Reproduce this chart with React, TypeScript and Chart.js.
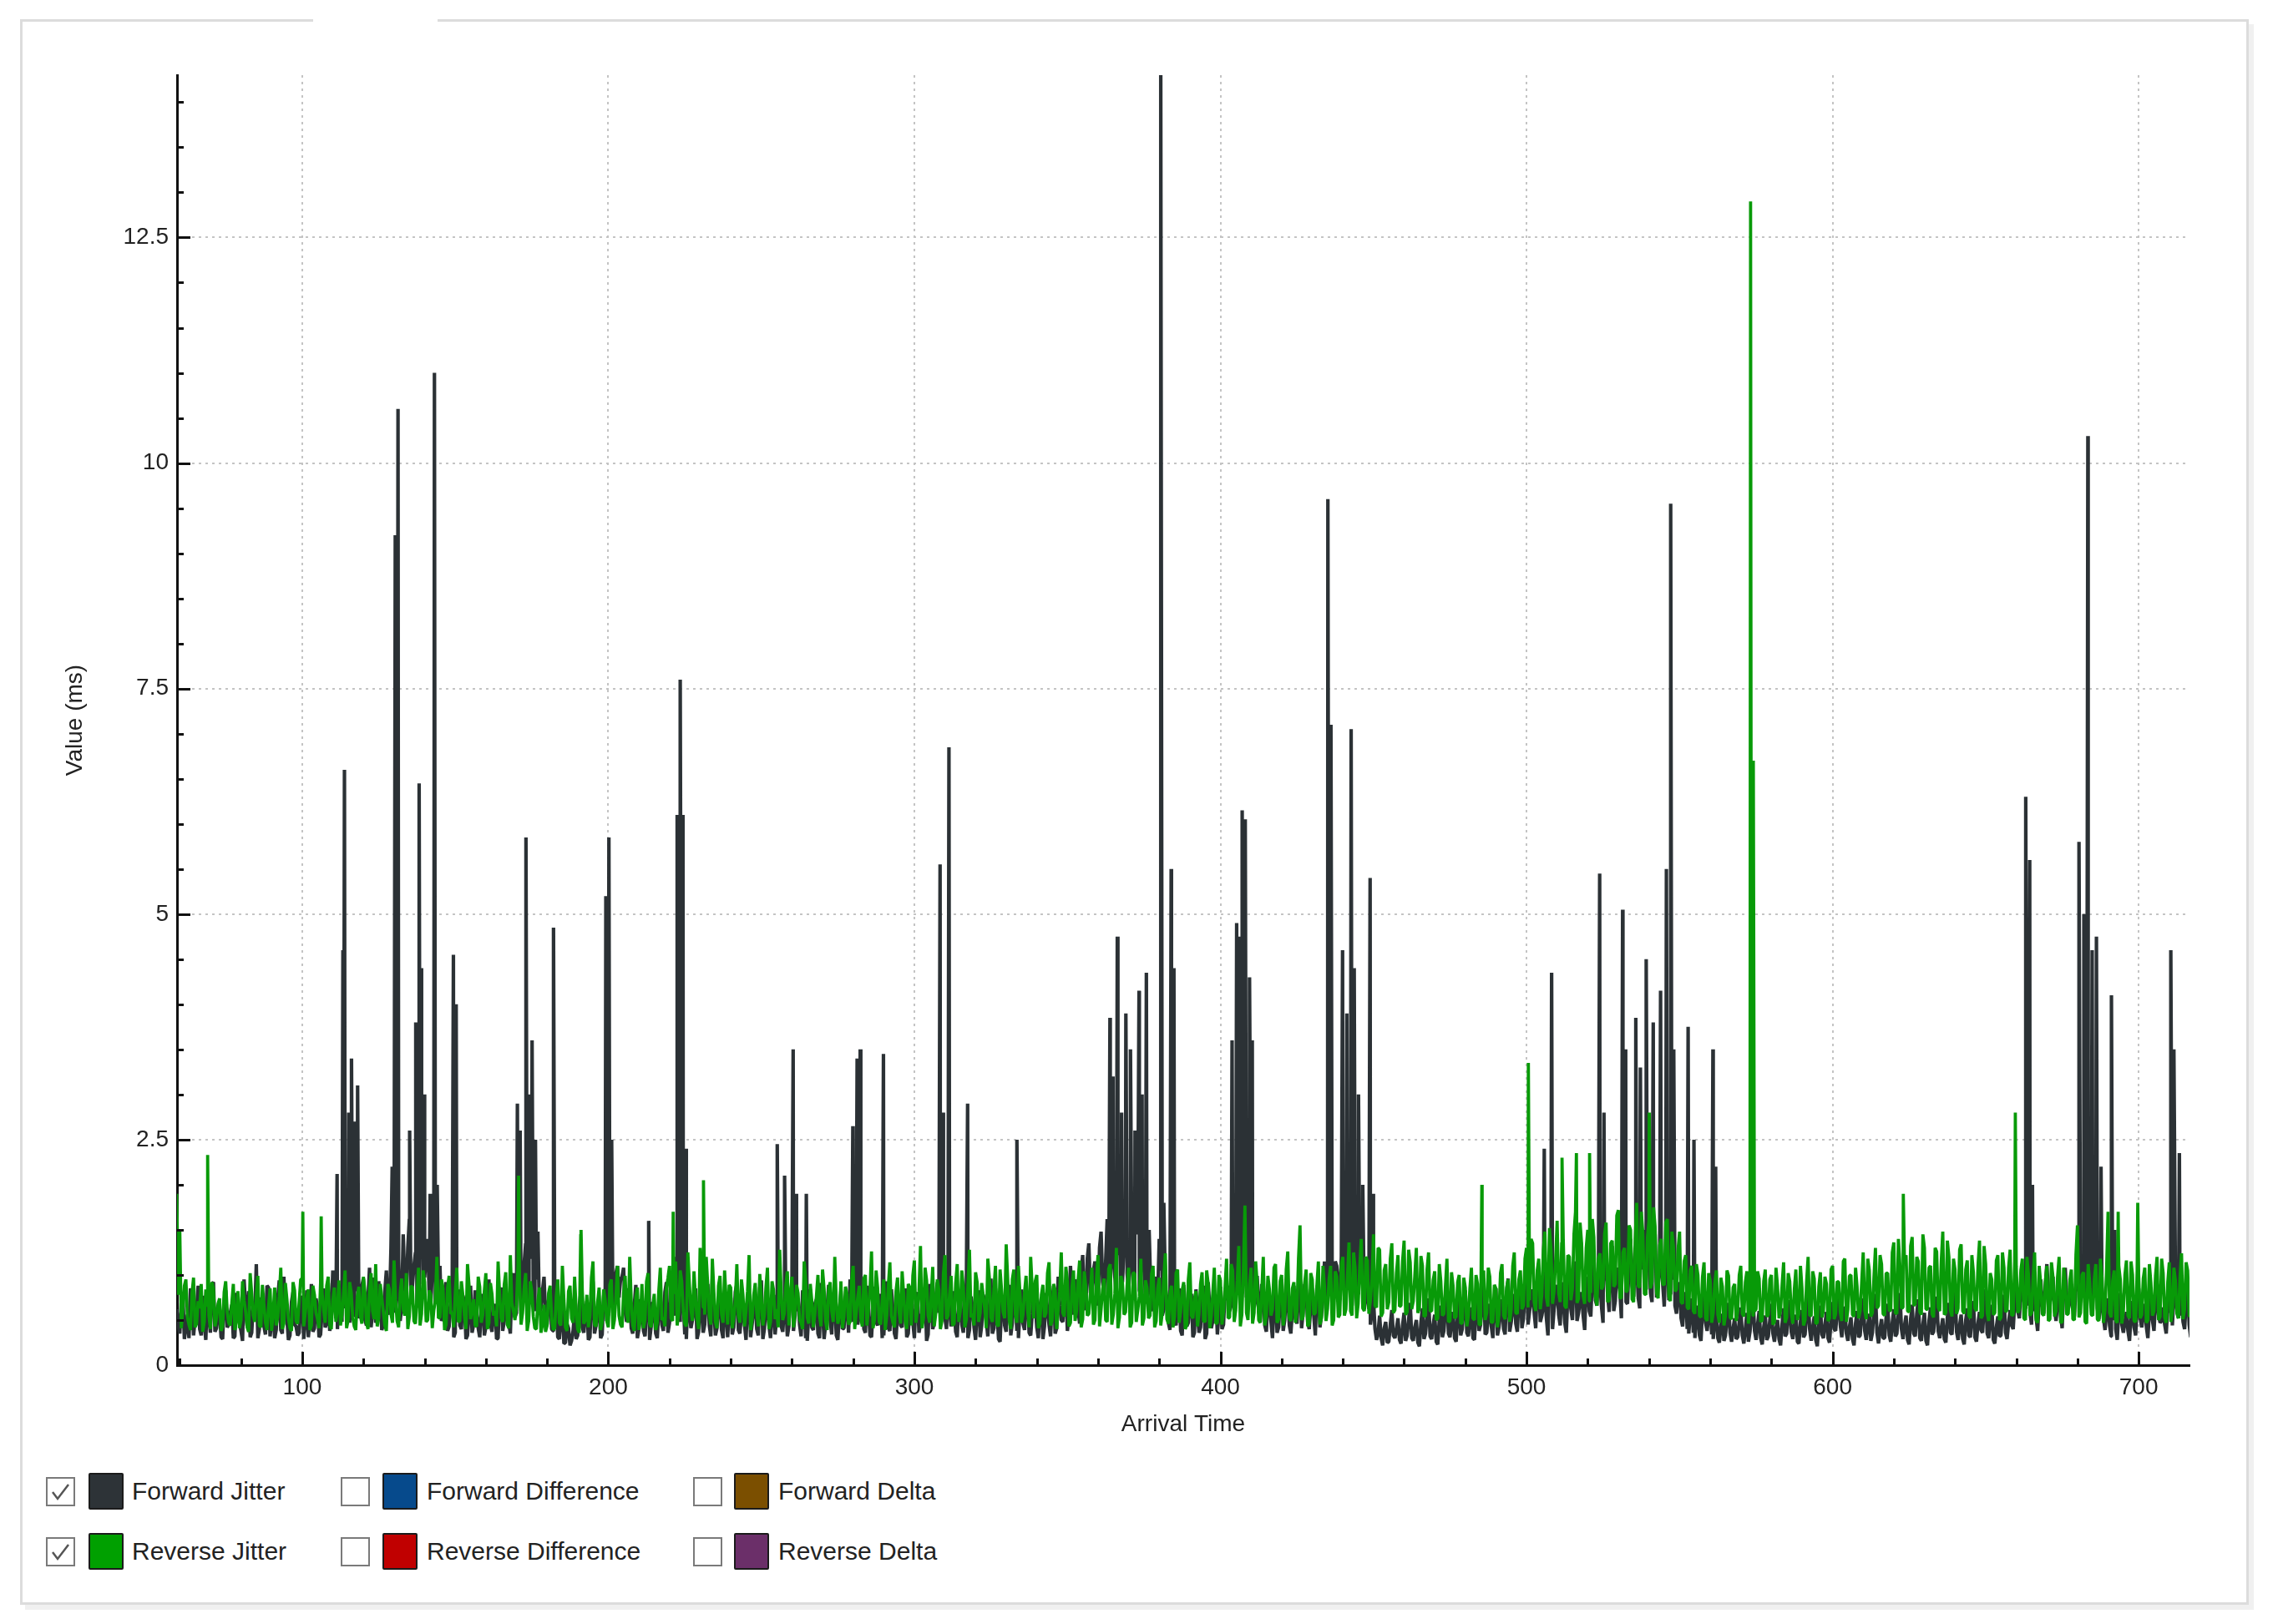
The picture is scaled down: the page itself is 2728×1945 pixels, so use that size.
import React, { useEffect, useRef } from 'react';
import { Chart, registerables } from 'chart.js';

Chart.register(...registerables);

// ---------- data ----------
const startTime = 59; // arrival time of the first background sample
const halfStep = 0.5; // the "Mid" arrays hold the samples that arrive half a unit later
const xAxisMin = 59.1;
const xAxisMax = 716.6;
const yAxisMax = 14.3;

const xTickValues = [100, 200, 300, 400, 500, 600, 700];
const yTickValues = [0, 2.5, 5, 7.5, 10, 12.5];
const xMinorStep = 20;
const yMinorStep = 0.5;

// Forward Jitter background samples at t = 59, 60, ... 717
const forwardJitterBase = [
  0.62, 0.35, 0.81, 0.42, 0.30, 0.74, 0.51, 0.88, 0.33, 0.47, 0.79, 0.36, 0.92, 0.41, 0.58, 0.29, 0.83, 0.45, 0.67, 0.32,
  0.76, 0.38, 0.95, 0.44, 0.31, 0.69, 1.12, 0.40, 0.57, 0.34, 0.86, 0.48, 0.30, 0.73, 0.39, 0.98, 0.52, 0.33, 0.81, 0.43,
  0.36, 0.77, 0.49, 0.31, 0.90, 0.41, 0.64, 0.34, 0.85, 0.46, 0.38, 1.05, 0.52, 0.72, 0.48, 1.20, 0.65, 0.91, 0.55, 1.15,
  0.58, 0.96, 0.44, 1.08, 0.61, 0.47, 0.93, 0.39, 0.82, 0.56, 1.30, 0.68, 0.95, 0.49, 1.45, 0.74, 1.62, 0.88, 1.25, 0.71,
  1.85, 0.97, 1.40, 0.66, 1.58, 0.80, 1.10, 0.54, 0.92, 0.43, 0.78, 0.36, 0.84, 0.40, 0.70, 0.33, 0.88, 0.45, 0.62, 0.31,
  0.79, 0.42, 0.95, 0.37, 0.68, 0.30, 0.86, 0.49, 0.74, 0.35, 1.02, 0.58, 0.91, 0.66, 1.35, 0.72, 1.18, 0.60, 1.48, 0.63,
  0.98, 0.45, 0.83, 0.38, 0.72, 0.29, 0.64, 0.25, 0.41, 0.27, 0.58, 0.33, 0.80, 0.36, 0.71, 0.31, 0.93, 0.44, 0.67, 0.34,
  0.85, 0.56, 1.05, 0.62, 1.10, 0.95, 1.08, 0.48, 0.77, 0.35, 0.89, 0.40, 0.68, 0.32, 0.81, 0.43, 0.59, 0.30, 0.76, 0.38,
  0.92, 0.47, 0.66, 1.20, 0.85, 0.58, 0.34, 0.79, 0.41, 0.63, 0.29, 0.87, 0.36, 0.72, 0.44, 0.96, 0.33, 0.69, 0.39, 0.82,
  0.31, 0.75, 0.42, 0.90, 0.35, 0.64, 0.28, 0.80, 0.46, 0.71, 0.33, 0.94, 0.40, 0.62, 0.30, 0.78, 0.52, 0.88, 0.37, 0.69,
  0.43, 0.91, 0.55, 0.74, 0.32, 0.67, 0.27, 0.84, 0.39, 0.73, 0.30, 0.60, 0.45, 0.89, 0.34, 0.70, 0.28, 0.82, 0.41, 0.66,
  0.95, 0.48, 1.02, 0.57, 0.79, 0.36, 0.68, 0.31, 0.87, 0.44, 0.72, 0.33, 0.93, 0.38, 0.61, 0.29, 0.76, 0.42, 0.85, 0.35,
  0.70, 0.30, 0.81, 0.46, 0.63, 0.27, 0.90, 0.40, 0.74, 0.58, 1.05, 0.52, 0.88, 0.43, 0.67, 0.31, 0.79, 0.36, 0.92, 0.39,
  0.65, 0.28, 0.83, 0.44, 0.71, 0.32, 0.96, 0.41, 0.60, 0.26, 0.77, 0.37, 0.89, 0.47, 0.68, 0.30, 0.84, 0.39, 0.73, 0.33,
  0.91, 0.42, 0.64, 0.29, 0.80, 0.45, 0.70, 0.35, 0.98, 0.50, 0.76, 0.38, 1.10, 0.56, 0.87, 0.46, 1.22, 0.61, 1.35, 0.72,
  1.15, 0.66, 1.48, 0.79, 1.62, 0.85, 1.30, 0.74, 1.55, 0.92, 1.70, 0.81, 1.42, 0.95, 1.58, 0.77, 1.25, 0.68, 1.12, 0.60,
  0.98, 1.40, 0.55, 0.86, 0.47, 0.93, 0.52, 0.78, 0.38, 0.89, 0.43, 0.70, 0.31, 0.84, 0.36, 0.75, 0.29, 0.92, 0.41, 0.66,
  0.34, 0.87, 0.45, 0.72, 0.60, 1.05, 0.75, 1.28, 0.88, 1.36, 0.92, 1.18, 0.64, 0.99, 0.48, 0.81, 0.37, 0.70, 0.30, 0.85,
  0.42, 0.95, 0.50, 0.77, 0.35, 0.88, 0.46, 1.02, 0.58, 0.83, 0.40, 0.74, 0.33, 0.91, 0.55, 1.15, 0.68, 1.32, 0.80, 1.10,
  0.72, 1.45, 0.85, 1.26, 0.66, 1.38, 0.79, 1.18, 0.62, 0.95, 0.45, 0.72, 0.28, 0.55, 0.22, 0.48, 0.26, 0.61, 0.30, 0.52,
  0.24, 0.58, 0.33, 0.69, 0.27, 0.50, 0.21, 0.63, 0.35, 0.74, 0.29, 0.56, 0.23, 0.66, 0.38, 0.80, 0.31, 0.59, 0.26, 0.71,
  0.40, 0.83, 0.32, 0.64, 0.28, 0.77, 0.45, 0.91, 0.36, 0.68, 0.30, 0.85, 0.42, 0.73, 0.34, 0.96, 0.48, 0.79, 0.37, 0.88,
  0.52, 1.05, 0.60, 0.84, 0.41, 0.97, 0.55, 0.76, 0.33, 1.10, 0.62, 0.89, 0.44, 0.72, 0.36, 0.93, 0.50, 1.15, 0.58, 0.81,
  0.39, 0.98, 0.54, 1.20, 0.66, 0.90, 0.47, 1.08, 0.59, 1.32, 0.71, 0.95, 0.52, 1.25, 0.68, 1.40, 0.76, 1.12, 0.63, 1.50,
  0.84, 1.28, 0.70, 1.45, 0.88, 1.18, 0.65, 1.36, 0.79, 1.05, 0.57, 0.92, 0.43, 0.81, 0.35, 0.74, 0.30, 0.66, 0.27, 0.85,
  0.38, 0.71, 0.29, 0.62, 0.25, 0.57, 0.33, 0.69, 0.26, 0.52, 0.31, 0.64, 0.24, 0.58, 0.37, 0.75, 0.28, 0.60, 0.23, 0.55,
  0.32, 0.68, 0.26, 0.50, 0.22, 0.63, 0.35, 0.72, 0.29, 0.56, 0.24, 0.61, 0.34, 0.77, 0.27, 0.54, 0.21, 0.66, 0.30, 0.59,
  0.25, 0.70, 0.38, 0.82, 0.31, 0.65, 0.27, 0.53, 0.22, 0.60, 0.33, 0.74, 0.28, 0.57, 0.36, 0.79, 0.24, 0.51, 0.30, 0.68,
  0.26, 0.62, 0.35, 0.80, 0.29, 0.55, 0.23, 0.67, 0.32, 0.73, 0.27, 0.58, 0.22, 0.64, 0.37, 0.76, 0.30, 0.52, 0.25, 0.69,
  0.34, 0.81, 0.28, 0.56, 0.23, 0.63, 0.31, 0.71, 0.26, 0.59, 0.36, 0.84, 0.30, 0.67, 0.24, 0.54, 0.33, 0.78, 0.29, 0.61,
  0.40, 0.92, 0.52, 1.05, 0.63, 0.88, 0.45, 0.76, 0.38, 0.95, 0.57, 1.12, 0.70, 0.98, 0.49, 0.85, 0.41, 1.08, 0.62, 0.90,
  0.54, 1.15, 0.73, 0.96, 0.60, 1.22, 0.78, 1.02, 0.51, 0.87, 0.39, 0.74, 0.32, 0.66, 0.28, 0.80, 0.36, 0.59, 0.27, 0.71,
  0.33, 0.85, 0.42, 0.68, 0.30, 0.77, 0.38, 0.90, 0.47, 0.64, 0.35, 0.82, 0.44, 0.96, 0.52, 0.73, 0.40, 0.88, 0.31,
];

// Forward Jitter background samples at t = 59.5, 60.5, ... 716.5
const forwardJitterMid = [
  0.44, 0.71, 0.29, 0.56, 0.85, 0.33, 0.62, 0.40, 0.77, 0.28, 0.53, 0.90, 0.37, 0.66, 0.31, 0.72, 0.42, 0.58, 0.30, 0.80,
  0.47, 0.27, 0.64, 0.82, 0.36, 0.55, 0.30, 0.75, 0.43, 0.88, 0.32, 0.61, 0.39, 0.94, 0.35, 0.57, 0.28, 0.70, 0.45, 0.33,
  0.68, 0.29, 0.83, 0.51, 0.37, 0.74, 0.31, 0.60, 0.42, 0.91, 0.55, 0.78, 0.40, 0.87, 0.63, 0.98, 0.47, 0.75, 0.82, 0.52,
  0.88, 0.50, 0.74, 0.42, 0.97, 0.55, 0.70, 0.45, 1.05, 0.62, 0.85, 0.58, 1.18, 0.66, 0.92, 1.30, 0.79, 1.10, 0.64, 1.38,
  0.90, 1.22, 0.75, 1.05, 0.68, 0.95, 0.49, 0.82, 0.38, 0.70, 0.31, 0.65, 0.44, 0.77, 0.29, 0.58, 0.36, 0.83, 0.41, 0.60,
  0.33, 0.72, 0.45, 0.58, 0.29, 0.81, 0.38, 0.64, 0.47, 0.90, 0.53, 0.78, 0.60, 1.12, 0.70, 1.28, 0.66, 0.95, 0.58, 0.82,
  0.55, 0.72, 0.40, 0.63, 0.31, 0.52, 0.24, 0.46, 0.22, 0.38, 0.29, 0.66, 0.42, 0.57, 0.28, 0.75, 0.35, 0.62, 0.30, 0.77,
  0.49, 0.92, 0.58, 1.02, 0.75, 0.98, 0.60, 0.85, 0.41, 0.66, 0.30, 0.73, 0.38, 0.59, 0.28, 0.70, 0.35, 0.64, 0.45, 0.81,
  0.36, 0.78, 0.55, 0.93, 0.48, 0.70, 0.29, 0.62, 0.50, 0.85, 0.37, 0.58, 0.45, 0.90, 0.32, 0.64, 0.41, 0.80, 0.30, 0.57,
  0.62, 0.34, 0.81, 0.39, 0.58, 0.45, 0.73, 0.31, 0.66, 0.40, 0.86, 0.29, 0.71, 0.44, 0.55, 0.34, 0.79, 0.43, 0.64, 0.32,
  0.77, 0.38, 0.60, 0.45, 0.83, 0.30, 0.57, 0.42, 0.68, 0.35, 0.91, 0.29, 0.64, 0.50, 0.76, 0.33, 0.59, 0.40, 0.73, 0.36,
  0.60, 0.85, 0.45, 0.72, 0.40, 0.88, 0.33, 0.62, 0.48, 0.79, 0.30, 0.66, 0.41, 0.84, 0.35, 0.57, 0.44, 0.71, 0.31, 0.63,
  0.48, 0.75, 0.36, 0.58, 0.84, 0.34, 0.69, 0.47, 0.92, 0.65, 0.78, 0.40, 0.61, 0.82, 0.37, 0.70, 0.45, 0.59, 0.30, 0.76,
  0.42, 0.63, 0.31, 0.78, 0.49, 0.60, 0.35, 0.85, 0.29, 0.67, 0.44, 0.74, 0.33, 0.90, 0.38, 0.62, 0.46, 0.81, 0.36, 0.57,
  0.68, 0.30, 0.75, 0.43, 0.61, 0.32, 0.88, 0.41, 0.66, 0.48, 0.83, 0.55, 0.72, 0.95, 0.62, 1.02, 0.70, 1.18, 0.81, 1.05,
  0.88, 1.30, 0.92, 1.15, 0.75, 1.40, 0.98, 1.22, 0.85, 1.35, 1.02, 1.25, 0.90, 1.45, 0.83, 1.10, 0.72, 0.95, 0.66, 0.85,
  0.73, 1.05, 0.62, 0.74, 0.39, 0.68, 0.44, 0.85, 0.33, 0.61, 0.47, 0.79, 0.36, 0.58, 0.42, 0.88, 0.35, 0.63, 0.49, 0.77,
  0.58, 0.40, 0.82, 0.88, 0.66, 0.95, 1.02, 0.80, 1.10, 0.75, 1.05, 0.85, 0.72, 0.62, 0.90, 0.44, 0.73, 0.49, 0.66, 0.36,
  0.71, 0.38, 0.83, 0.44, 0.62, 0.52, 0.79, 0.41, 0.90, 0.48, 0.66, 0.55, 0.85, 0.42, 0.78, 0.90, 1.02, 0.95, 1.15, 0.88,
  1.20, 0.95, 1.08, 0.92, 1.15, 0.86, 1.02, 0.90, 0.75, 0.62, 0.58, 0.40, 0.35, 0.30, 0.41, 0.25, 0.45, 0.33, 0.40, 0.28,
  0.44, 0.27, 0.51, 0.30, 0.42, 0.25, 0.47, 0.29, 0.55, 0.32, 0.45, 0.26, 0.50, 0.31, 0.62, 0.35, 0.48, 0.30, 0.57, 0.33,
  0.65, 0.36, 0.52, 0.30, 0.61, 0.38, 0.70, 0.34, 0.55, 0.43, 0.72, 0.33, 0.58, 0.40, 0.81, 0.37, 0.63, 0.46, 0.74, 0.41,
  0.83, 0.45, 0.72, 0.58, 0.90, 0.48, 0.66, 0.52, 0.88, 0.40, 0.75, 0.56, 0.92, 0.47, 0.80, 0.62, 0.95, 0.49, 0.71, 0.55,
  0.86, 0.60, 0.98, 0.72, 1.05, 0.65, 0.94, 0.78, 1.12, 0.60, 1.08, 0.82, 1.20, 0.70, 1.15, 0.88, 1.28, 0.74, 1.06, 0.92,
  1.18, 0.80, 1.30, 0.75, 1.10, 0.90, 1.22, 0.72, 0.95, 0.66, 0.78, 0.52, 0.69, 0.40, 0.58, 0.36, 0.51, 0.33, 0.62, 0.47,
  0.55, 0.34, 0.49, 0.30, 0.44, 0.27, 0.52, 0.36, 0.41, 0.29, 0.48, 0.33, 0.40, 0.26, 0.56, 0.38, 0.45, 0.30, 0.42, 0.28,
  0.50, 0.35, 0.41, 0.29, 0.46, 0.32, 0.55, 0.37, 0.43, 0.26, 0.48, 0.31, 0.58, 0.40, 0.42, 0.28, 0.47, 0.34, 0.45, 0.30,
  0.52, 0.40, 0.61, 0.45, 0.50, 0.35, 0.42, 0.29, 0.46, 0.31, 0.56, 0.38, 0.44, 0.27, 0.60, 0.36, 0.40, 0.30, 0.53, 0.33,
  0.47, 0.32, 0.58, 0.40, 0.44, 0.28, 0.51, 0.35, 0.57, 0.30, 0.45, 0.27, 0.49, 0.34, 0.59, 0.38, 0.41, 0.29, 0.53, 0.36,
  0.62, 0.37, 0.44, 0.29, 0.50, 0.33, 0.55, 0.31, 0.46, 0.39, 0.64, 0.35, 0.52, 0.28, 0.42, 0.32, 0.60, 0.36, 0.47, 0.44,
  0.70, 0.60, 0.82, 0.71, 0.66, 0.58, 0.60, 0.52, 0.75, 0.66, 0.88, 0.80, 0.77, 0.62, 0.69, 0.55, 0.84, 0.72, 0.70, 0.63,
  0.90, 0.82, 0.78, 0.70, 0.95, 0.85, 0.76, 0.63, 0.66, 0.52, 0.57, 0.44, 0.50, 0.40, 0.61, 0.45, 0.48, 0.38, 0.55, 0.42,
  0.64, 0.52, 0.55, 0.43, 0.60, 0.50, 0.70, 0.56, 0.49, 0.45, 0.66, 0.58, 0.75, 0.62, 0.55, 0.48, 0.70, 0.45,
];

// Forward Jitter spikes (arrival time, value)
const forwardSpikeTimes = [
  111.4, 113.3, 113.8, 115.2, 116.1, 117.1, 118.1,
  129.4, 130.4, 131.3, 135.1, 137.1, 138.2, 138.9, 139.9, 141.8, 143.2, 144.1, 149.4, 150.3,
  170.3, 171.2, 173.1, 174.1, 175.1, 176.2, 182.1, 199.2, 200.2, 201.1, 213.2,
  222.5, 223.5, 224.4, 225.3, 255.2, 257.6, 260.4, 261.4, 264.7, 279.9, 281.3, 282.3, 289.9,
  308.4, 309.4, 311.3, 317.4, 333.5,
  363.9, 364.9, 366.3, 367.7, 369.1, 370.6, 372.1, 373.4, 374.4, 375.8, 376.7, 380.5, 381.5, 383.9, 384.8,
  403.8, 405.3, 406.2, 407.1, 408.1, 409.5, 410.4,
  435.1, 436.1, 439.9, 441.3, 442.7, 443.7, 445.1, 446.5, 448.9, 449.8,
  505.8, 508.2, 523.9, 525.3, 531.4, 532.4, 535.7, 537.2, 539.1, 541.4, 543.8, 545.7, 547.1, 548.1, 552.8, 554.7, 560.9, 561.8,
  663.1, 664.4, 665.3, 680.5, 682.1, 683.4, 684.8, 686.2, 687.7, 691.1, 692.2, 710.5, 711.5, 713.3,
];
const forwardSpikeValues = [
  2.12, 4.6, 6.6, 2.8, 3.4, 2.7, 3.1,
  2.2, 9.2, 10.6, 2.6, 3.8, 6.45, 4.4, 3.0, 1.9, 11.0, 2.0, 4.55, 4.0,
  2.9, 2.6, 5.85, 3.0, 3.6, 2.5, 4.85, 5.2, 5.85, 2.5, 1.6,
  6.1, 7.6, 6.1, 2.4, 2.45, 2.1, 3.5, 1.9, 1.9, 2.65, 3.4, 3.5, 3.45,
  5.55, 2.8, 6.85, 2.9, 2.5,
  3.85, 3.2, 4.75, 2.8, 3.9, 3.5, 2.6, 4.15, 3.0, 4.35, 1.5, 14.3, 1.8, 5.5, 4.4,
  3.6, 4.9, 4.75, 6.15, 6.05, 4.3, 3.6,
  9.6, 7.1, 4.6, 3.9, 7.05, 4.4, 3.0, 2.0, 5.4, 1.9,
  2.4, 4.35, 5.45, 2.8, 5.05, 3.5, 3.85, 3.3, 4.5, 3.8, 4.15, 5.5, 9.55, 3.5, 3.75, 2.5, 3.5, 2.2,
  6.3, 5.6, 2.0, 5.8, 5.0, 10.3, 4.6, 4.75, 2.2, 4.1, 1.5, 4.6, 3.5, 2.35,
];

// Reverse Jitter background samples at t = 59, 60, ... 717
const reverseJitterBase = [
  1.90, 1.50, 0.62, 0.95, 0.45, 0.80, 0.42, 0.71, 0.90, 0.48, 0.66, 0.40, 0.85, 0.52, 0.74, 0.43, 0.93, 0.47, 0.69, 0.39,
  0.82, 0.50, 0.72, 0.42, 1.02, 0.55, 0.77, 0.44, 0.89, 0.47, 0.65, 0.38, 0.86, 0.53, 1.08, 0.46, 0.73, 0.41, 0.92, 0.49,
  0.70, 0.96, 0.58, 0.84, 0.44, 0.78, 0.51, 0.92, 0.61, 0.88, 0.45, 0.72, 0.48, 0.94, 0.56, 1.05, 0.50, 0.81, 0.43, 0.76,
  0.55, 0.98, 0.47, 0.83, 0.60, 1.12, 0.52, 0.75, 0.44, 0.90, 0.57, 1.16, 0.49, 0.80, 0.62, 1.02, 0.54, 0.86, 0.46, 1.08,
  0.57, 0.92, 0.50, 0.78, 0.61, 1.20, 0.53, 0.85, 0.45, 0.99, 0.58, 0.80, 0.48, 0.93, 0.55, 1.12, 0.51, 0.73, 0.43, 0.87,
  0.56, 1.02, 0.47, 0.79, 0.60, 1.15, 0.52, 0.89, 0.45, 1.22, 0.60, 0.66, 0.95, 0.58, 1.02, 0.49, 0.82, 0.41, 0.71, 0.36,
  0.67, 0.44, 0.88, 0.39, 0.76, 0.47, 1.10, 0.42, 0.82, 0.52, 0.98, 0.40, 1.45, 0.46, 0.78, 0.55, 1.15, 0.43, 0.86, 0.48,
  0.72, 0.42, 0.95, 0.50, 1.10, 0.45, 0.80, 0.57, 1.20, 0.44, 0.75, 0.39, 0.90, 0.51, 1.02, 0.42, 0.79, 0.47, 1.08, 0.53,
  0.85, 1.10, 0.49, 1.15, 0.58, 0.93, 0.46, 1.25, 0.61, 1.04, 0.52, 1.30, 0.64, 1.20, 0.55, 1.18, 0.48, 0.88, 0.57, 1.05,
  0.45, 0.86, 0.53, 1.12, 0.47, 0.78, 0.60, 1.22, 0.51, 0.91, 0.43, 0.75, 0.56, 1.08, 0.48, 0.83, 0.62, 1.28, 0.50, 0.88,
  0.44, 0.98, 0.57, 0.80, 0.47, 1.15, 0.53, 0.90, 0.42, 0.77, 0.55, 1.06, 0.49, 0.84, 0.60, 1.20, 0.46, 0.93, 0.54, 0.79,
  0.48, 1.10, 0.58, 0.88, 0.43, 1.00, 0.62, 1.26, 0.51, 0.86, 0.45, 0.95, 0.56, 1.14, 0.47, 0.82, 0.59, 1.04, 0.50, 0.90,
  0.44, 1.16, 0.61, 1.32, 0.53, 0.94, 0.47, 1.09, 0.58, 0.84, 0.49, 1.22, 0.55, 0.99, 0.46, 1.12, 0.60, 0.87, 0.51, 1.28,
  0.57, 1.03, 0.48, 0.91, 0.62, 1.18, 0.53, 0.85, 0.45, 1.06, 0.59, 1.34, 0.50, 0.95, 0.56, 1.10, 0.47, 0.81, 0.61, 1.20,
  0.52, 1.00, 0.46, 0.89, 0.58, 1.14, 0.49, 0.83, 0.63, 1.25, 0.54, 0.93, 0.47, 1.05, 0.60, 1.16, 0.51, 0.87, 0.57, 1.08,
  0.50, 1.22, 0.62, 0.96, 0.48, 1.12, 0.56, 1.30, 0.53, 0.91, 0.59, 1.08, 0.47, 1.01, 0.61, 1.18, 0.52, 0.86, 0.55, 1.10,
  0.49, 0.97, 0.58, 1.24, 0.46, 0.88, 0.54, 1.06, 0.60, 0.92, 0.45, 1.14, 0.52, 0.82, 0.57, 1.03, 0.48, 0.90, 0.55, 1.08,
  0.47, 0.94, 0.59, 1.18, 0.53, 1.05, 0.61, 1.32, 0.56, 1.77, 0.50, 1.08, 0.58, 0.91, 0.47, 1.20, 0.55, 0.84, 0.62, 1.12,
  0.51, 1.00, 0.57, 1.26, 0.49, 0.92, 0.60, 1.55, 0.54, 1.06, 0.46, 0.95, 0.58, 1.15, 0.52, 0.87, 0.63, 1.10, 0.50, 0.98,
  0.56, 1.20, 0.62, 1.36, 0.55, 1.08, 0.68, 1.40, 0.60, 1.16, 0.72, 1.45, 0.64, 1.28, 0.58, 1.12, 0.70, 1.35, 0.61, 1.22,
  0.66, 1.38, 0.59, 1.14, 0.71, 1.30, 0.63, 1.10, 0.55, 1.25, 0.60, 1.04, 0.52, 0.93, 0.57, 1.18, 0.49, 0.88, 0.54, 1.00,
  0.47, 0.86, 0.55, 1.08, 0.50, 0.90, 0.45, 1.05, 0.58, 0.98, 0.48, 0.85, 0.56, 1.12, 0.51, 0.95, 0.62, 1.25, 0.57, 1.05,
  0.66, 1.30, 0.72, 1.35, 0.60, 1.18, 0.78, 1.48, 0.65, 1.28, 0.82, 1.60, 0.70, 1.40, 0.63, 1.20, 0.85, 1.70, 0.74, 1.35,
  0.68, 1.50, 0.80, 1.42, 0.66, 1.24, 0.88, 1.58, 0.72, 1.38, 0.90, 1.72, 0.75, 1.30, 0.83, 1.50, 0.70, 1.80, 0.86, 1.46,
  0.78, 1.60, 0.92, 1.54, 0.74, 1.40, 0.89, 1.62, 0.71, 1.32, 0.84, 1.48, 0.68, 1.22, 0.62, 1.10, 0.57, 1.00, 0.53, 1.14,
  0.49, 0.94, 0.58, 1.05, 0.47, 0.87, 0.55, 0.99, 0.51, 0.90, 0.60, 1.10, 0.54, 1.04, 0.70, 0.55, 0.62, 0.96, 0.50, 1.06,
  0.56, 1.00, 0.48, 0.88, 0.61, 1.14, 0.53, 0.93, 0.46, 1.06, 0.58, 0.85, 0.50, 1.20, 0.55, 0.96, 0.47, 1.03, 0.60, 0.90,
  0.52, 1.10, 0.57, 0.92, 0.49, 1.18, 0.62, 1.00, 0.54, 0.87, 0.60, 1.25, 0.51, 1.05, 0.58, 1.30, 0.66, 1.12, 0.55, 1.02,
  0.61, 1.36, 0.57, 1.10, 0.64, 1.22, 0.59, 1.42, 0.68, 1.15, 0.56, 1.30, 0.62, 1.10, 0.53, 1.26, 0.60, 1.48, 0.58, 1.20,
  0.54, 1.06, 0.63, 1.34, 0.57, 1.16, 0.52, 1.03, 0.60, 1.38, 0.55, 1.12, 0.49, 0.95, 0.58, 1.22, 0.53, 1.08, 0.61, 1.28,
  0.56, 1.10, 0.62, 1.18, 0.50, 1.00, 0.58, 1.25, 0.47, 0.90, 0.55, 1.10, 0.51, 0.98, 0.60, 1.20, 0.48, 0.93, 0.57, 1.06,
  0.50, 1.55, 0.58, 1.03, 0.46, 0.92, 0.55, 1.12, 0.49, 0.98, 0.61, 1.70, 0.53, 1.05, 0.47, 0.95, 0.59, 1.16, 0.52, 1.00,
  0.48, 1.00, 0.56, 1.08, 0.50, 0.91, 0.60, 1.20, 0.54, 1.02, 0.47, 1.14, 0.58, 0.94, 0.52, 1.24, 0.62, 1.05, 0.55,
];

// Reverse Jitter background samples at t = 59.5, 60.5, ... 716.5
const reverseJitterMid = [
  0.78, 0.41, 0.88, 0.53, 0.39, 0.97, 0.46, 0.63, 0.37, 0.84, 0.55, 0.92, 0.43, 0.68, 0.38, 0.81, 0.59, 0.44, 0.90, 0.50,
  0.41, 0.93, 0.60, 0.37, 0.79, 0.48, 0.99, 0.42, 0.67, 0.39, 0.85, 0.57, 0.44, 0.76, 0.40, 0.91, 0.52, 0.38, 0.83, 0.46,
  0.95, 0.43, 0.74, 0.39, 0.88, 0.58, 0.41, 0.80, 0.47, 0.98, 0.40, 0.86, 0.62, 0.44, 0.79, 0.41, 0.92, 0.53, 0.39, 0.87,
  0.46, 0.81, 0.40, 1.02, 0.51, 0.43, 0.90, 0.59, 0.38, 0.84, 0.47, 0.73, 0.42, 0.96, 0.55, 0.40, 0.88, 0.49, 0.77, 0.44,
  1.05, 0.48, 0.83, 0.41, 0.72, 0.52, 0.95, 0.39, 0.86, 0.57, 0.42, 1.08, 0.49, 0.77, 0.40, 0.89, 0.61, 0.44, 0.98, 0.47,
  0.82, 0.40, 0.91, 0.55, 0.43, 0.78, 0.48, 1.03, 0.41, 0.69, 0.50, 1.12, 0.45, 0.85, 0.38, 0.93, 0.54, 0.40, 0.86, 0.45,
  0.37, 0.80, 0.52, 0.41, 0.95, 0.44, 0.72, 0.38, 0.88, 0.47, 0.61, 0.36, 0.83, 0.50, 0.42, 0.97, 0.45, 0.70, 0.39, 0.84,
  0.49, 0.89, 0.40, 0.76, 0.55, 0.42, 0.99, 0.47, 0.71, 0.38, 0.86, 0.52, 0.41, 0.93, 0.46, 0.65, 0.39, 0.82, 0.50, 0.43,
  0.97, 0.52, 0.79, 0.44, 1.05, 0.60, 0.43, 0.90, 0.49, 0.74, 0.40, 0.96, 0.56, 0.88, 0.45, 0.81, 0.41, 0.99, 0.47, 0.72,
  0.89, 0.41, 0.70, 0.55, 0.95, 0.43, 0.82, 0.39, 0.77, 0.58, 1.01, 0.44, 0.86, 0.40, 0.93, 0.51, 0.42, 0.80, 0.57, 1.04,
  0.76, 0.42, 0.89, 0.51, 0.40, 0.94, 0.46, 0.71, 0.57, 1.00, 0.43, 0.85, 0.39, 0.92, 0.48, 0.68, 0.55, 0.41, 0.87, 0.45,
  0.93, 0.40, 0.75, 0.52, 0.96, 0.44, 0.83, 0.41, 1.05, 0.48, 0.72, 0.39, 0.88, 0.55, 0.42, 0.97, 0.46, 0.79, 0.40, 0.86,
  0.99, 0.47, 0.82, 0.41, 1.08, 0.55, 0.76, 0.43, 0.95, 0.40, 1.02, 0.51, 0.78, 0.44, 0.91, 0.48, 1.05, 0.42, 0.87, 0.53,
  0.44, 0.92, 0.58, 0.77, 0.41, 0.97, 0.48, 1.10, 0.43, 0.83, 0.52, 0.95, 0.40, 1.06, 0.47, 0.80, 0.56, 0.99, 0.42, 0.85,
  0.93, 0.41, 0.78, 0.53, 1.02, 0.44, 0.90, 0.40, 0.82, 0.58, 1.09, 0.43, 0.87, 0.49, 0.95, 0.42, 1.04, 0.55, 0.80, 0.45,
  0.96, 0.43, 0.84, 0.50, 1.07, 0.45, 0.79, 0.41, 0.99, 0.56, 0.88, 0.42, 1.03, 0.48, 0.76, 0.44, 0.94, 0.52, 1.01, 0.42,
  0.85, 0.44, 0.97, 0.51, 0.78, 0.42, 1.02, 0.47, 0.83, 0.40, 0.95, 0.55, 0.74, 0.43, 0.90, 0.49, 1.05, 0.41, 0.80, 0.46,
  1.00, 0.45, 0.86, 0.52, 1.12, 0.48, 0.94, 0.43, 1.05, 0.58, 0.89, 0.46, 1.15, 0.50, 0.82, 0.44, 0.99, 0.55, 1.08, 0.47,
  0.93, 0.44, 1.06, 0.52, 0.85, 0.47, 1.18, 0.50, 0.91, 0.43, 1.02, 0.56, 0.88, 0.45, 1.10, 0.49, 0.96, 0.44, 1.04, 0.53,
  1.12, 0.55, 0.98, 0.60, 1.25, 0.52, 1.08, 0.63, 1.20, 0.57, 0.95, 0.66, 1.30, 0.54, 1.05, 0.62, 1.18, 0.58, 1.02, 0.65,
  1.15, 0.56, 1.28, 0.62, 0.99, 0.58, 1.21, 0.54, 1.06, 0.60, 0.94, 0.50, 1.12, 0.55, 0.87, 0.48, 1.03, 0.52, 0.92, 0.46,
  0.97, 0.43, 0.85, 0.52, 1.00, 0.45, 0.91, 0.50, 1.08, 0.47, 0.89, 0.42, 1.02, 0.55, 0.86, 0.48, 1.10, 0.58, 0.95, 0.62,
  1.18, 0.64, 1.40, 0.70, 1.05, 0.62, 1.28, 0.75, 1.52, 0.68, 1.15, 0.80, 1.36, 0.66, 1.22, 0.72, 1.45, 0.69, 1.58, 0.77,
  1.30, 0.71, 1.62, 0.76, 1.18, 0.84, 1.45, 0.70, 1.35, 0.87, 1.66, 0.74, 1.25, 0.81, 1.55, 0.73, 1.40, 0.88, 1.70, 0.79,
  1.42, 0.85, 1.75, 0.80, 1.33, 0.90, 1.58, 0.76, 1.48, 0.82, 1.28, 0.70, 1.15, 0.64, 1.05, 0.60, 1.12, 0.55, 0.98, 0.52,
  1.02, 0.47, 0.90, 0.56, 0.97, 0.44, 1.05, 0.53, 0.86, 0.49, 1.00, 0.57, 0.92, 0.46, 0.84, 0.60, 1.04, 0.48, 0.93, 0.54,
  0.95, 0.45, 1.08, 0.52, 0.89, 0.47, 1.02, 0.58, 0.84, 0.50, 1.10, 0.44, 0.92, 0.55, 1.04, 0.46, 0.87, 0.53, 0.98, 0.49,
  1.06, 0.51, 0.93, 0.59, 1.15, 0.48, 0.99, 0.56, 1.08, 0.52, 0.91, 0.61, 1.18, 0.54, 0.97, 0.63, 1.22, 0.57, 1.02, 0.60,
  1.25, 0.58, 1.40, 0.63, 1.12, 0.60, 1.32, 0.66, 1.20, 0.59, 1.45, 0.62, 1.08, 0.57, 1.30, 0.64, 1.15, 0.56, 1.38, 0.61,
  1.18, 0.57, 1.28, 0.60, 1.06, 0.55, 1.22, 0.63, 1.10, 0.52, 1.32, 0.58, 1.02, 0.56, 1.16, 0.50, 1.25, 0.59, 1.08, 0.55,
  1.15, 0.58, 1.05, 0.52, 1.20, 0.55, 0.96, 0.50, 1.10, 0.57, 0.92, 0.49, 1.14, 0.54, 0.98, 0.47, 1.08, 0.56, 0.94, 0.51,
  1.22, 0.53, 1.00, 0.48, 1.12, 0.56, 0.95, 0.51, 1.18, 0.47, 1.04, 0.58, 0.93, 0.50, 1.10, 0.46, 1.00, 0.55, 1.15, 0.49,
  1.05, 0.52, 0.96, 0.47, 1.12, 0.55, 0.99, 0.50, 1.18, 0.53, 0.92, 0.48, 1.08, 0.57, 0.97, 0.51, 1.14, 0.54,
];

// Reverse Jitter spikes (arrival time, value)
const reverseSpikeTimes = [69.1, 100.2, 106.2, 170.7, 191.1, 221.2, 231.1, 485.4, 500.6, 511.6, 516.3, 520.6, 540.1, 573.2, 574.1, 623.1, 659.7, 693.3, 699.7];
const reverseSpikeValues = [2.33, 1.7, 1.65, 2.1, 1.5, 1.7, 2.05, 2.0, 3.35, 2.3, 2.35, 2.35, 2.8, 12.9, 6.7, 1.9, 2.8, 1.7, 1.8];

// Legend (checkbox state, colour, label)
const legendLabels = [
  ['Forward Jitter', 'Forward Difference', 'Forward Delta'],
  ['Reverse Jitter', 'Reverse Difference', 'Reverse Delta'],
];
const legendColors = [
  ['#2d3337', '#064a8c', '#7b4f00'],
  ['#00a000', '#c00000', '#6b2f69'],
];
const legendChecked = [
  [true, false, false],
  [true, false, false],
];

// ---------- helpers ----------
function buildSeries(base: number[], mid: number[], spikeTimes: number[], spikeValues: number[]) {
  const pts = base.map((y, i) => ({ x: startTime + i, y }));
  mid.forEach((y, i) => pts.push({ x: startTime + i + halfStep, y }));
  spikeTimes.forEach((t, k) => pts.push({ x: t, y: spikeValues[k] }));
  pts.sort((a, b) => a.x - b.x);
  return pts;
}

const FONT = '"Liberation Sans", Arial, sans-serif';
const TEXT_COLOR = '#222222';

const axisTicksPlugin = {
  id: 'axisTicks',
  afterDraw(chart: any) {
    const { ctx, chartArea, scales } = chart;
    const x = scales.x;
    const y = scales.y;
    ctx.save();
    ctx.strokeStyle = '#111111';
    ctx.lineWidth = 3;
    for (let k = Math.ceil(x.min / xMinorStep); k * xMinorStep <= x.max; k++) {
      const v = k * xMinorStep;
      const px = Math.round(x.getPixelForValue(v)) + 0.5;
      const len = v % 100 === 0 ? 16 : 8;
      ctx.beginPath();
      ctx.moveTo(px, chartArea.bottom);
      ctx.lineTo(px, chartArea.bottom - len);
      ctx.stroke();
    }
    for (let k = 0; k * yMinorStep <= y.max; k++) {
      const v = k * yMinorStep;
      const py = Math.round(y.getPixelForValue(v)) + 0.5;
      const len = k % 5 === 0 ? 16 : 8;
      ctx.beginPath();
      ctx.moveTo(chartArea.left, py);
      ctx.lineTo(chartArea.left + len, py);
      ctx.stroke();
    }
    ctx.restore();
  },
};

function CheckBox({ checked }: { checked: boolean }) {
  return (
    <div
      style={{
        width: 35,
        height: 35,
        boxSizing: 'border-box',
        border: '2px solid #7a7a7a',
        background: '#ffffff',
        position: 'relative',
      }}
    >
      {checked ? (
        <svg width={31} height={31} style={{ position: 'absolute', left: 0, top: 0 }}>
          <polyline points="6,16 12,24 25,7" stroke="#555555" strokeWidth={2.5} fill="none" />
        </svg>
      ) : null}
    </div>
  );
}

export default function App() {
  const canvasRef = useRef<HTMLCanvasElement | null>(null);

  useEffect(() => {
    const canvas = canvasRef.current;
    if (!canvas) return;
    const forward = buildSeries(forwardJitterBase, forwardJitterMid, forwardSpikeTimes, forwardSpikeValues);
    const reverse = buildSeries(reverseJitterBase, reverseJitterMid, reverseSpikeTimes, reverseSpikeValues);
    const tickFont = { family: FONT, size: 28 };
    const chart = new Chart(canvas, {
      type: 'line',
      data: {
        datasets: [
          {
            label: 'Forward Jitter',
            data: forward,
            borderColor: '#2b3135',
            borderWidth: 4.2,
            borderJoinStyle: 'bevel',
            pointRadius: 0,
            tension: 0,
            order: 1,
          },
          {
            label: 'Reverse Jitter',
            data: reverse,
            borderColor: '#089a08',
            borderWidth: 3.8,
            borderJoinStyle: 'bevel',
            pointRadius: 0,
            tension: 0,
            order: 0,
          },
        ],
      },
      options: {
        animation: false,
        responsive: false,
        devicePixelRatio: 1,
        events: [],
        layout: { padding: { top: 67, right: 71, left: 0, bottom: 0 } },
        plugins: {
          legend: { display: false },
          tooltip: { enabled: false },
        },
        scales: {
          x: {
            type: 'linear',
            min: xAxisMin,
            max: xAxisMax,
            afterBuildTicks: (scale: any) => {
              scale.ticks = xTickValues.map((v) => ({ value: v }));
            },
            afterFit: (scale: any) => {
              scale.height = 105;
            },
            ticks: {
              font: tickFont,
              color: TEXT_COLOR,
              padding: 10,
              maxRotation: 0,
              autoSkip: false,
              callback: (v: any) => String(v),
            },
            grid: { color: '#c4c4c4', lineWidth: 2, drawTicks: false },
            border: { display: true, color: '#111111', width: 3, dash: [3, 5] },
            title: {
              display: true,
              text: 'Arrival Time',
              font: tickFont,
              color: TEXT_COLOR,
              padding: { top: 0, bottom: 17 },
            },
          },
          y: {
            type: 'linear',
            min: 0,
            max: yAxisMax,
            afterBuildTicks: (scale: any) => {
              scale.ticks = yTickValues.map((v) => ({ value: v }));
            },
            afterFit: (scale: any) => {
              scale.width = 188;
            },
            ticks: {
              font: tickFont,
              color: TEXT_COLOR,
              padding: 10,
              autoSkip: false,
              callback: (v: any) => String(v),
            },
            grid: { color: '#c4c4c4', lineWidth: 2, drawTicks: false },
            border: { display: true, color: '#111111', width: 3, dash: [3, 5] },
            title: {
              display: true,
              text: 'Value (ms)',
              font: tickFont,
              color: TEXT_COLOR,
              padding: { top: 49, bottom: 0 },
            },
          },
        },
      },
      plugins: [axisTicksPlugin],
    } as any);
    return () => chart.destroy();
  }, []);

  const colCheck = [47, 400, 822];
  const colSwatch = [98, 450, 871];
  const colText = [150, 503, 924];
  const rowCenter = [1778, 1850];

  return (
    <div
      style={{
        position: 'relative',
        width: 2712,
        height: 1925,
        overflow: 'hidden',
        background: '#ffffff',
        fontFamily: FONT,
      }}
    >
      {/* group-box frame */}
      <div
        style={{
          position: 'absolute',
          left: 16,
          top: 15,
          width: 2669,
          height: 1899,
          boxSizing: 'border-box',
          border: '3px solid #dcdcdc',
          boxShadow: '6px 6px 0 #f0f0f0',
        }}
      />
      <div style={{ position: 'absolute', left: 367, top: 13, width: 149, height: 7, background: '#ffffff' }} />

      <canvas
        ref={canvasRef}
        width={2669}
        height={1717}
        style={{ position: 'absolute', left: 16, top: 15, width: 2669, height: 1717 }}
      />

      {legendLabels.map((row, r) =>
        row.map((label, c) => (
          <React.Fragment key={`${r}-${c}`}>
            <div style={{ position: 'absolute', left: colCheck[c], top: rowCenter[r] - 17 }}>
              <CheckBox checked={legendChecked[r][c]} />
            </div>
            <div
              style={{
                position: 'absolute',
                left: colSwatch[c],
                top: rowCenter[r] - 22,
                width: 42,
                height: 44,
                boxSizing: 'border-box',
                background: legendColors[r][c],
                border: '2px solid #1b1b1b',
                borderRadius: 2,
              }}
            />
            <div
              style={{
                position: 'absolute',
                left: colText[c],
                top: rowCenter[r] - 18,
                height: 36,
                lineHeight: '36px',
                fontSize: 30,
                color: TEXT_COLOR,
                whiteSpace: 'nowrap',
              }}
            >
              {label}
            </div>
          </React.Fragment>
        ))
      )}
    </div>
  );
}
